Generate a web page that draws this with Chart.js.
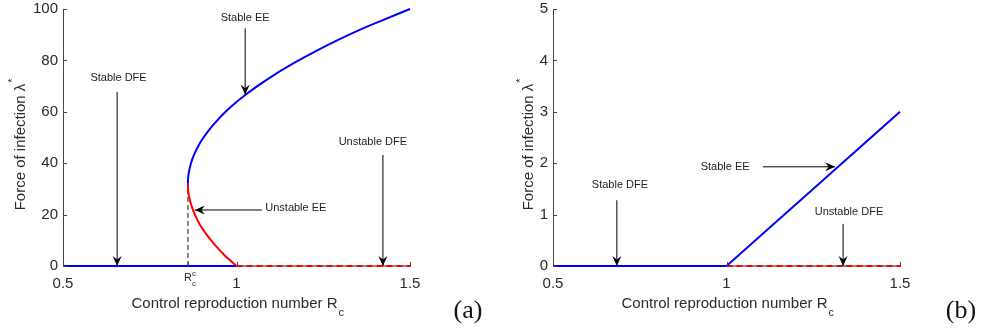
<!DOCTYPE html>
<html>
<head>
<meta charset="utf-8">
<script src="https://cdn.jsdelivr.net/npm/chart.js@4.4.1/dist/chart.umd.min.js"></script>
<style>
  html, body { margin: 0; padding: 0; background: #fff; }
  #wrap { position: relative; width: 982px; height: 332px; }
  .panel { position: absolute; top: 0; width: 491px; height: 332px; }
</style>
</head>
<body>
<div id="wrap">
  <div class="panel" style="left:0"><canvas id="chartA"></canvas></div>
  <div class="panel" style="left:491px"><canvas id="chartB"></canvas></div>
</div>
<script>
// tick values
const xTickVals = [0.5, 1, 1.5];
const yTicksA = [0, 20, 40, 60, 80, 100];
const yTicksB = [0, 1, 2, 3, 4, 5];

// critical point of the backward bifurcation (panel a)
const rcCrit = 0.86;
const lamCrit = 32;

// disease free branches (both panels)
const dfeStableR = [0.5, 1];
const dfeStableLam = [0, 0];
const dfeUnstableR = [1, 1.5];
const dfeUnstableLam = [0, 0];

// panel (a): endemic branches
const eeStableR_a = [0.86, 0.8605, 0.862, 0.865, 0.87, 0.88, 0.89, 0.9, 0.92, 0.94, 0.97,
                     1.0, 1.03, 1.06, 1.11, 1.17, 1.23, 1.29, 1.35, 1.42, 1.5];
const eeStableLam_a = [32, 33.9, 35.8, 38, 40.5, 44, 46.7, 49, 52.8, 56, 60.2,
                       63.8, 67, 70, 74.5, 79.3, 83.7, 87.8, 91.6, 95.6, 100];
const eeUnstableR_a = [0.86, 0.8605, 0.862, 0.865, 0.869, 0.874, 0.88, 0.895, 0.915, 0.939, 0.967, 0.983, 1.0];
const eeUnstableLam_a = [32, 30, 28, 26, 24, 22, 20, 16, 12, 8, 4, 2, 0];

// panel (b): forward bifurcation
const eeStableR_b = [1, 1.5];
const eeStableLam_b = [0, 3];

// annotations (data coordinates)
const notesA = [
  {text: 'Stable DFE',   tx: 0.66,  ty: 73,   x0: 0.656, y0: 67.7, x1: 0.656, y1: 0},
  {text: 'Stable EE',    tx: 1.025, ty: 96.5, x0: 1.025, y0: 92.5, x1: 1.025, y1: 66.6},
  {text: 'Unstable EE',  tx: 1.171, ty: 22.6, x0: 1.073, y0: 21.8, x1: 0.88,  y1: 21.8},
  {text: 'Unstable DFE', tx: 1.393, ty: 48.2, x0: 1.422, y0: 43.2, x1: 1.422, y1: 0}
];
const notesB = [
  {text: 'Stable DFE',   tx: 0.693, ty: 1.58, x0: 0.684, y0: 1.28, x1: 0.684, y1: 0},
  {text: 'Stable EE',    tx: 0.996, ty: 1.93, x0: 1.105, y0: 1.93, x1: 1.313, y1: 1.93},
  {text: 'Unstable DFE', tx: 1.353, ty: 1.05, x0: 1.336, y0: 0.82, x1: 1.336, y1: 0}
];

const FONT = '"Liberation Sans", Arial, Helvetica, sans-serif';
const AXIS = '#444';
const TICKTXT = '#2a2a2a';
const BLUE = '#0000ff';
const RED = '#ff0000';

function pts(xs, ys) {
  return xs.map((x, i) => ({x: x, y: ys[i]}));
}

function line(data, color, extra) {
  return Object.assign({
    data: data, borderColor: color, borderWidth: 2, pointRadius: 0,
    fill: false, tension: 0, clip: 4
  }, extra || {});
}

function arrow(ctx, x0, y0, x1, y1) {
  ctx.beginPath();
  ctx.moveTo(x0, y0);
  ctx.lineTo(x1, y1);
  ctx.stroke();
  const ang = Math.atan2(y1 - y0, x1 - x0);
  ctx.save();
  ctx.translate(x1, y1);
  ctx.rotate(ang);
  ctx.beginPath();
  ctx.moveTo(0, 0);
  ctx.lineTo(-10, -4.5);
  ctx.lineTo(-6.5, 0);
  ctx.lineTo(-10, 4.5);
  ctx.closePath();
  ctx.fill();
  ctx.restore();
}

function extras(cfg) {
  return {
    id: 'extras',
    afterDraw(chart) {
      const ctx = chart.ctx;
      const a = chart.chartArea;
      const xs = chart.scales.x, ys = chart.scales.y;
      ctx.save();

      // inward tick marks
      ctx.strokeStyle = AXIS;
      ctx.lineWidth = 1;
      const xt = cfg.extraTick != null ? xTickVals.concat([cfg.extraTick]) : xTickVals;
      xt.forEach(v => {
        const px = Math.round(xs.getPixelForValue(v)) + 0.5;
        ctx.beginPath(); ctx.moveTo(px, a.bottom); ctx.lineTo(px, a.bottom - 4); ctx.stroke();
      });
      cfg.yTicks.forEach(v => {
        const py = Math.round(ys.getPixelForValue(v)) + 0.5;
        ctx.beginPath(); ctx.moveTo(a.left, py); ctx.lineTo(a.left + 4, py); ctx.stroke();
      });

      // R_c^c tick label
      if (cfg.extraTick != null) {
        const px = xs.getPixelForValue(cfg.extraTick);
        ctx.fillStyle = TICKTXT;
        ctx.textBaseline = 'alphabetic';
        ctx.textAlign = 'left';
        ctx.font = '11px ' + FONT;
        ctx.fillText('R', px - 4, a.bottom + 15);
        ctx.font = '8px ' + FONT;
        ctx.fillText('c', px + 4, a.bottom + 10);
        ctx.fillText('c', px + 4, a.bottom + 20);
      }

      // annotations
      ctx.strokeStyle = '#000';
      ctx.fillStyle = '#000';
      ctx.lineWidth = 1;
      cfg.notes.forEach(n => {
        arrow(ctx, xs.getPixelForValue(n.x0), ys.getPixelForValue(n.y0),
                   xs.getPixelForValue(n.x1), ys.getPixelForValue(n.y1));
      });
      ctx.fillStyle = '#222';
      ctx.font = '11px ' + FONT;
      ctx.textAlign = 'center';
      ctx.textBaseline = 'middle';
      cfg.notes.forEach(n => {
        ctx.fillText(n.text, xs.getPixelForValue(n.tx), ys.getPixelForValue(n.ty));
      });

      // x axis title with subscript
      ctx.fillStyle = TICKTXT;
      ctx.textBaseline = 'alphabetic';
      ctx.textAlign = 'left';
      ctx.font = '15px ' + FONT;
      const xt1 = 'Control reproduction number R';
      const w1 = ctx.measureText(xt1).width;
      const cx = (a.left + a.right) / 2 - 2;
      ctx.fillText(xt1, cx - w1 / 2, 308);
      ctx.font = '11px ' + FONT;
      ctx.fillText('c', cx + w1 / 2 + 1, 316);

      // y axis title with superscript
      ctx.save();
      ctx.translate(cfg.yTitleX, 147);
      ctx.rotate(-Math.PI / 2);
      ctx.font = '15px ' + FONT;
      const yt1 = 'Force of infection \u03bb';
      const w2 = ctx.measureText(yt1).width;
      ctx.fillText(yt1, -w2 / 2, 0);
      ctx.font = '11px ' + FONT;
      ctx.fillText('*', w2 / 2 + 1, -9);
      ctx.restore();

      // panel letter
      ctx.font = '26px "Liberation Serif", "Times New Roman", serif';
      ctx.textAlign = 'center';
      ctx.fillStyle = '#111';
      ctx.fillText(cfg.letter, cfg.letterX, 318);

      ctx.restore();
    }
  };
}

function makePanel(id, datasets, cfg) {
  return new Chart(document.getElementById(id), {
    type: 'line',
    data: {datasets: datasets},
    options: {
      responsive: true,
      maintainAspectRatio: false,
      animation: false,
      events: [],
      layout: {padding: {left: 0, top: 9, right: cfg.padRight, bottom: 0}},
      plugins: {legend: {display: false}, tooltip: {enabled: false}},
      scales: {
        x: {
          type: 'linear', min: 0.5, max: 1.5,
          afterBuildTicks: s => { s.ticks = xTickVals.map(v => ({value: v})); },
          afterFit: s => { s.height = 66; s.paddingLeft = 0; s.paddingRight = 0; },
          grid: {display: false, drawTicks: false},
          border: {display: true, color: AXIS, width: 1},
          ticks: {padding: 9, color: TICKTXT, font: {family: FONT, size: 15},
                  maxRotation: 0, autoSkip: false, callback: v => String(v)}
        },
        y: {
          type: 'linear', min: 0, max: cfg.yMax,
          afterBuildTicks: s => { s.ticks = cfg.yTicks.map(v => ({value: v})); },
          afterFit: s => { s.width = cfg.yWidth; s.paddingTop = 0; s.paddingBottom = 0; },
          grid: {display: false, drawTicks: false},
          border: {display: true, color: AXIS, width: 1},
          ticks: {padding: 5, color: TICKTXT, font: {family: FONT, size: 15},
                  autoSkip: false, callback: v => String(v)}
        }
      }
    },
    plugins: [extras(cfg)]
  });
}

// panel (a): datasets listed top-most first
makePanel('chartA', [
  line(pts(dfeUnstableR, dfeUnstableLam), RED, {borderDash: [6, 4]}),
  line(pts(dfeUnstableR, dfeUnstableLam), '#8c8c8c'),
  line(pts(dfeStableR, dfeStableLam), BLUE),
  line(pts(eeStableR_a, eeStableLam_a), BLUE, {cubicInterpolationMode: 'monotone'}),
  line(pts(eeUnstableR_a, eeUnstableLam_a), RED, {cubicInterpolationMode: 'monotone'}),
  line(pts([rcCrit, rcCrit], [0, lamCrit]), '#666', {borderWidth: 1.5, borderDash: [5, 3]})
], {
  yMax: 100, yTicks: yTicksA, yWidth: 63, padRight: 81, notes: notesA,
  extraTick: rcCrit, yTitleX: 25, letter: '(a)', letterX: 468
});

// panel (b)
makePanel('chartB', [
  line(pts(eeStableR_b, eeStableLam_b), BLUE),
  line(pts(dfeUnstableR, dfeUnstableLam), RED, {borderDash: [6, 4]}),
  line(pts(dfeUnstableR, dfeUnstableLam), '#8c8c8c'),
  line(pts(dfeStableR, dfeStableLam), BLUE)
], {
  yMax: 5, yTicks: yTicksB, yWidth: 62, padRight: 82, notes: notesB,
  extraTick: null, yTitleX: 42, letter: '(b)', letterX: 470
});
</script>
</body>
</html>
